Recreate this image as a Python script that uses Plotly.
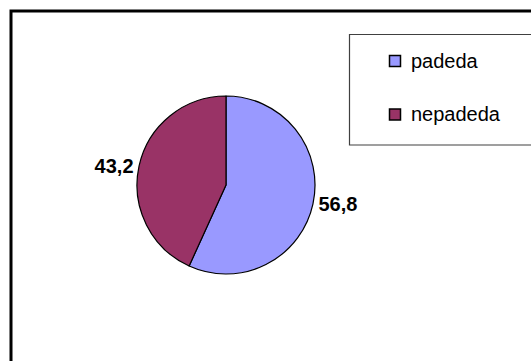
import plotly.graph_objects as go

# Share of respondents
categories = ["padeda", "nepadeda"]
values = [56.8, 43.2]
colors = ["#9999FF", "#993366"]

W, H = 531, 361
FONT = "Arial, 'Liberation Sans', sans-serif"

# Pie placement in pixels (centre and radius)
cx, cy, r = 226, 185, 89

fig = go.Figure(
    go.Pie(
        labels=categories,
        values=values,
        sort=False,
        direction="clockwise",
        rotation=0,
        marker=dict(colors=colors, line=dict(color="black", width=1.2)),
        texttemplate="%{value:.1f}",
        textposition="outside",
        textfont=dict(family=FONT, size=20, color="black", weight="bold"),
        showlegend=False,
        hoverinfo="label+value",
        domain=dict(
            x=[(cx - r) / W, (cx + r) / W],
            y=[1 - (cy + r) / H, 1 - (cy - r) / H],
        ),
    )
)

shapes = [
    # outer chart frame
    dict(type="rect", xref="paper", yref="paper",
         x0=11 / W, x1=1.05, y0=-0.05, y1=1 - 11 / H,
         line=dict(color="black", width=3), fillcolor="rgba(0,0,0,0)"),
    # legend frame
    dict(type="rect", xref="paper", yref="paper",
         x0=349.5 / W, x1=1.05, y0=1 - 145 / H, y1=1 - 34.5 / H,
         line=dict(color="#404040", width=1.2), fillcolor="white"),
]
annotations = []

# legend entries
row_y = [61, 114.5]
for name, col, yy in zip(categories, colors, row_y):
    shapes.append(dict(type="rect", xref="paper", yref="paper",
                       x0=389.5 / W, x1=400.5 / W,
                       y0=1 - (yy + 5.5) / H, y1=1 - (yy - 5.5) / H,
                       line=dict(color="black", width=1.5), fillcolor=col))
    annotations.append(dict(xref="paper", yref="paper", x=409 / W, y=1 - yy / H,
                            text=name, showarrow=False, xanchor="left", yanchor="middle",
                            font=dict(family=FONT, size=20, color="black")))

fig.update_layout(
    width=W, height=H,
    margin=dict(l=0, r=0, t=0, b=0),
    paper_bgcolor="white",
    plot_bgcolor="white",
    separators=",.",
    shapes=shapes,
    annotations=annotations,
)

fig.write_html("out.html")
